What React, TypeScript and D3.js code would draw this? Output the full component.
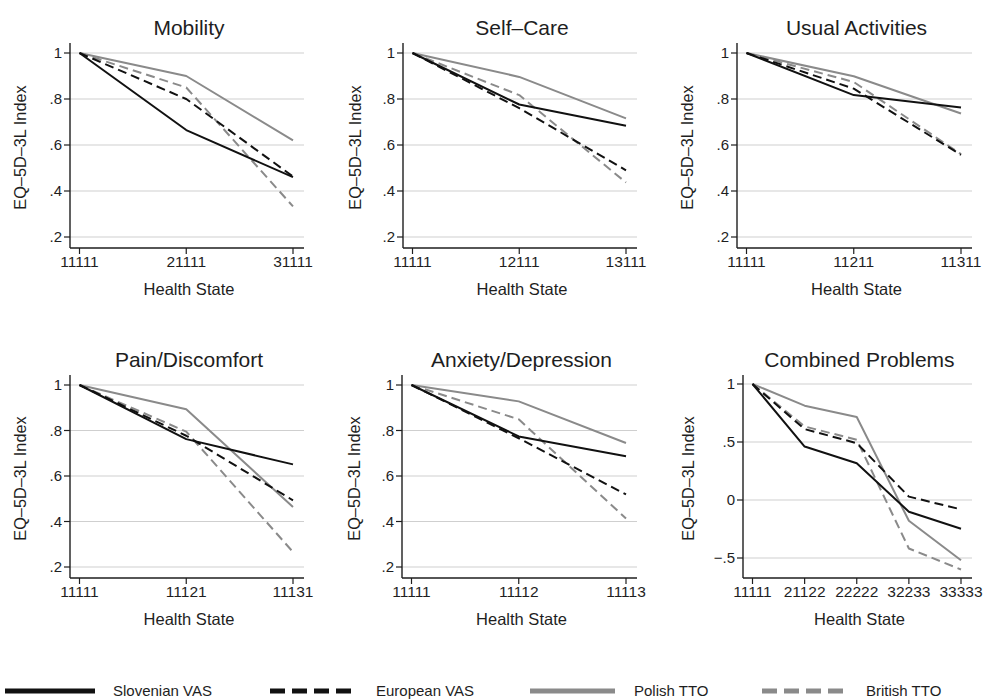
import React from "react";
import * as d3 from "d3";

// Health-state labels per dimension
const mobilityStates = ["11111", "21111", "31111"];
const selfCareStates = ["11111", "12111", "13111"];
const usualStates = ["11111", "11211", "11311"];
const painStates = ["11111", "11121", "11131"];
const anxietyStates = ["11111", "11112", "11113"];
const combinedStates = ["11111", "21122", "22222", "32233", "33333"];

// Index values: Slovenian VAS, European VAS, Polish TTO, British TTO
const mobilitySlo = [1, 0.665, 0.46];
const mobilityEur = [1, 0.8, 0.463];
const mobilityPol = [1, 0.9, 0.62];
const mobilityBri = [1, 0.85, 0.333];

const selfCareSlo = [1, 0.776, 0.684];
const selfCareEur = [1, 0.76, 0.49];
const selfCarePol = [1, 0.896, 0.716];
const selfCareBri = [1, 0.817, 0.437];

const usualSlo = [1, 0.817, 0.763];
const usualEur = [1, 0.845, 0.557];
const usualPol = [1, 0.899, 0.737];
const usualBri = [1, 0.874, 0.56];

const painSlo = [1, 0.762, 0.651];
const painEur = [1, 0.777, 0.493];
const painPol = [1, 0.893, 0.464];
const painBri = [1, 0.795, 0.266];

const anxietySlo = [1, 0.774, 0.687];
const anxietyEur = [1, 0.766, 0.519];
const anxietyPol = [1, 0.928, 0.745];
const anxietyBri = [1, 0.849, 0.413];

const combinedSlo = [1, 0.461, 0.317, -0.101, -0.248];
const combinedEur = [1, 0.611, 0.49, 0.029, -0.081];
const combinedPol = [1, 0.813, 0.715, -0.179, -0.519];
const combinedBri = [1, 0.634, 0.519, -0.418, -0.599];

const unitTicks = [0.2, 0.4, 0.6, 0.8, 1];
const unitTickLabels = [".2", ".4", ".6", ".8", "1"];
const combinedTicks = [-0.5, 0, 0.5, 1];
const combinedTickLabels = ["\u2212.5", "0", ".5", "1"];

const seriesNames = ["Slovenian VAS", "European VAS", "Polish TTO", "British TTO"];

const panels = [
  { title: "Mobility", states: mobilityStates, values: [mobilitySlo, mobilityEur, mobilityPol, mobilityBri], ticks: unitTicks, tickLabels: unitTickLabels },
  { title: "Self\u2013Care", states: selfCareStates, values: [selfCareSlo, selfCareEur, selfCarePol, selfCareBri], ticks: unitTicks, tickLabels: unitTickLabels },
  { title: "Usual Activities", states: usualStates, values: [usualSlo, usualEur, usualPol, usualBri], ticks: unitTicks, tickLabels: unitTickLabels },
  { title: "Pain/Discomfort", states: painStates, values: [painSlo, painEur, painPol, painBri], ticks: unitTicks, tickLabels: unitTickLabels },
  { title: "Anxiety/Depression", states: anxietyStates, values: [anxietySlo, anxietyEur, anxietyPol, anxietyBri], ticks: unitTicks, tickLabels: unitTickLabels },
  { title: "Combined Problems", states: combinedStates, values: [combinedSlo, combinedEur, combinedPol, combinedBri], ticks: combinedTicks, tickLabels: combinedTickLabels },
];

// Plot frames (axis lines) for each panel, plus y-title offset
const frames = [
  { left: 70, right: 304, top: 43, bottom: 248, yTitle: 50 },
  { left: 403, right: 637, top: 43, bottom: 248, yTitle: 48 },
  { left: 737, right: 972, top: 43, bottom: 248, yTitle: 50 },
  { left: 70, right: 304, top: 375, bottom: 578, yTitle: 50 },
  { left: 402, right: 637, top: 375, bottom: 578, yTitle: 48 },
  { left: 743, right: 972, top: 375, bottom: 578, yTitle: 55 },
];

const BLACK = "#111111";
const GRAY = "#8a8a8a";
const seriesStyles = [
  { color: BLACK, dash: "none" },
  { color: BLACK, dash: "9,5" },
  { color: GRAY, dash: "none" },
  { color: GRAY, dash: "9,5" },
];
const drawOrder = [3, 2, 1, 0];

const FONT = "'Liberation Sans', Arial, sans-serif";
const INK = "#1e1e1e";

function Panel({ panel, frame }: any) {
  const { left, right, top, bottom, yTitle } = frame;
  const x = d3
    .scalePoint<string>()
    .domain(panel.states)
    .range([left + 9.5, right - 11]);
  const ticks: number[] = panel.ticks;
  const y = d3
    .scaleLinear()
    .domain([ticks[0], ticks[ticks.length - 1]])
    .range(ticks[0] < 0 ? [bottom - 20, top + 9] : [bottom - 11, top + 10]);
  const line = d3
    .line<number>()
    .x((_, i) => x(panel.states[i]) as number)
    .y((v) => y(v));
  const cx = (left + right) / 2 + 2;
  const cy = (top + bottom) / 2;
  return (
    <g>
      <text x={cx} y={top - 8} textAnchor="middle" fontSize={21} fill={INK}>
        {panel.title}
      </text>
      {ticks.map((t, i) => (
        <g key={i}>
          <line x1={left} x2={right} y1={y(t)} y2={y(t)} stroke="#cfcfcf" strokeWidth={1.2} />
          <line x1={left - 6} x2={left} y1={y(t)} y2={y(t)} stroke={INK} strokeWidth={1.2} />
          <text x={left - 8} y={y(t)} dy="0.35em" textAnchor="end" fontSize={15} fill={INK}>
            {panel.tickLabels[i]}
          </text>
        </g>
      ))}
      {panel.states.map((s: string) => (
        <g key={s}>
          <line x1={x(s)} x2={x(s)} y1={bottom} y2={bottom + 6} stroke={INK} strokeWidth={1.2} />
          <text x={x(s)} y={bottom + 19} textAnchor="middle" fontSize={15.5} fill={INK}>
            {s}
          </text>
        </g>
      ))}
      {drawOrder.map((k) => (
        <path
          key={k}
          d={line(panel.values[k]) || ""}
          fill="none"
          stroke={seriesStyles[k].color}
          strokeWidth={2}
          strokeDasharray={seriesStyles[k].dash}
          strokeLinejoin="round"
        />
      ))}
      <line x1={left} x2={left} y1={top} y2={bottom} stroke={INK} strokeWidth={1.4} />
      <line x1={left} x2={right} y1={bottom} y2={bottom} stroke={INK} strokeWidth={1.4} />
      <text x={cx} y={bottom + 47} textAnchor="middle" fontSize={16.5} fill={INK}>
        Health State
      </text>
      <text
        transform={`translate(${left - yTitle},${cy + 2}) rotate(-90)`}
        textAnchor="middle"
        dy="0.35em"
        fontSize={16.3}
        fill={INK}
      >
        {"EQ\u20135D\u20133L Index"}
      </text>
    </g>
  );
}

// Legend placement
const legendItems = [
  { x1: 5, x2: 95, tx: 113 },
  { x1: 270, x2: 356, tx: 376 },
  { x1: 530, x2: 615, tx: 634 },
  { x1: 762, x2: 850, tx: 866 },
];

export default function App() {
  return (
    <svg
      width={984}
      height={700}
      style={{ position: "absolute", left: 0, top: 0, background: "#fff" }}
      fontFamily={FONT}
    >
      <rect width={984} height={700} fill="#fff" />
      {panels.map((p, i) => (
        <Panel key={i} panel={p} frame={frames[i]} />
      ))}
      {seriesNames.map((name, i) => (
        <g key={name}>
          <line
            x1={legendItems[i].x1}
            x2={legendItems[i].x2}
            y1={691}
            y2={691}
            stroke={seriesStyles[i].color}
            strokeWidth={5}
            strokeDasharray={seriesStyles[i].dash === "none" ? "none" : "15,7"}
          />
          <text x={legendItems[i].tx} y={691} dy="0.35em" fontSize={15} fill={INK}>
            {name}
          </text>
        </g>
      ))}
    </svg>
  );
}
